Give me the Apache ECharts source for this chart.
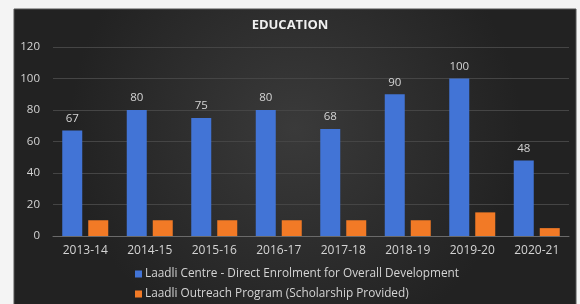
<!DOCTYPE html>
<html>
<head>
    <meta charset="utf-8">
    <title>EDUCATION</title>
    <script src="https://cdn.jsdelivr.net/npm/echarts@6/dist/echarts.min.js"></script>
    <style>
        html, body { margin: 0; padding: 0; background: #f4f4f4; }
    </style>
</head>
<body>
<div id="main" style="width: 580px;height:304px;"></div>

<script type="text/javascript">
    // data
    var years = ['2013-14', '2014-15', '2015-16', '2016-17', '2017-18', '2018-19', '2019-20', '2020-21'];
    var centreValues = [67, 80, 75, 80, 68, 90, 100, 48];
    var outreachValues = [10, 10, 10, 10, 10, 10, 15, 5];
    var seriesNames = ['Laadli Centre - Direct Enrolment for Overall Development',
        'Laadli Outreach Program (Scholarship Provided)'];

    var chart = echarts.init(document.getElementById('main'));

    var textColor = '#d4d4d4';
    var font = 'Open Sans';

    var option = {
        animation: false,
        backgroundColor: '#f4f4f4',
        graphic: [{
            type: 'rect',
            z: -10,
            shape: { x: 14, y: 9, width: 562, height: 300 },
            style: {
                fill: {
                    type: 'radial', x: 0.5, y: 0.4, r: 0.75,
                    colorStops: [
                        { offset: 0, color: '#3a3a3a' },
                        { offset: 1, color: '#222222' }
                    ]
                },
                stroke: '#555',
                lineWidth: 1
            }
        }],
        title: {
            text: 'EDUCATION',
            left: 'center',
            top: 14,
            textStyle: { color: '#f0f0f0', fontSize: 13, fontWeight: 'bold', fontFamily: font }
        },
        legend: {
            orient: 'vertical',
            left: 135,
            top: 268,
            height: 60,
            padding: 0,
            itemWidth: 7,
            itemHeight: 7,
            itemGap: 8,
            icon: 'rect',
            textStyle: { color: textColor, fontSize: 11.8, fontFamily: font, padding: [0, 0, 0, -2] },
            data: seriesNames
        },
        grid: {
            left: 53,
            right: 11,
            top: 47,
            bottom: 68,
            containLabel: false
        },
        xAxis: {
            type: 'category',
            data: years,
            axisLine: { lineStyle: { color: '#6a6a6a' } },
            axisTick: { show: false },
            axisLabel: { color: textColor, fontSize: 12, fontFamily: font, margin: 9 }
        },
        yAxis: {
            type: 'value',
            min: 0,
            max: 120,
            interval: 20,
            axisLine: { show: false },
            axisTick: { show: false },
            axisLabel: { color: textColor, fontSize: 11.5, fontFamily: font, margin: 13 },
            splitLine: { lineStyle: { color: '#454545' } }
        },
        series: [{
            name: seriesNames[0],
            type: 'bar',
            data: centreValues,
            barWidth: 20,
            barGap: '30%',
            itemStyle: { color: '#4274d6' },
            label: {
                show: true,
                position: 'top',
                color: textColor,
                fontSize: 11.5,
                fontFamily: font,
                distance: 6
            }
        }, {
            name: seriesNames[1],
            type: 'bar',
            data: outreachValues,
            barWidth: 20,
            itemStyle: { color: '#f27a26' }
        }]
    };

    chart.setOption(option);
</script>
</body>
</html>
